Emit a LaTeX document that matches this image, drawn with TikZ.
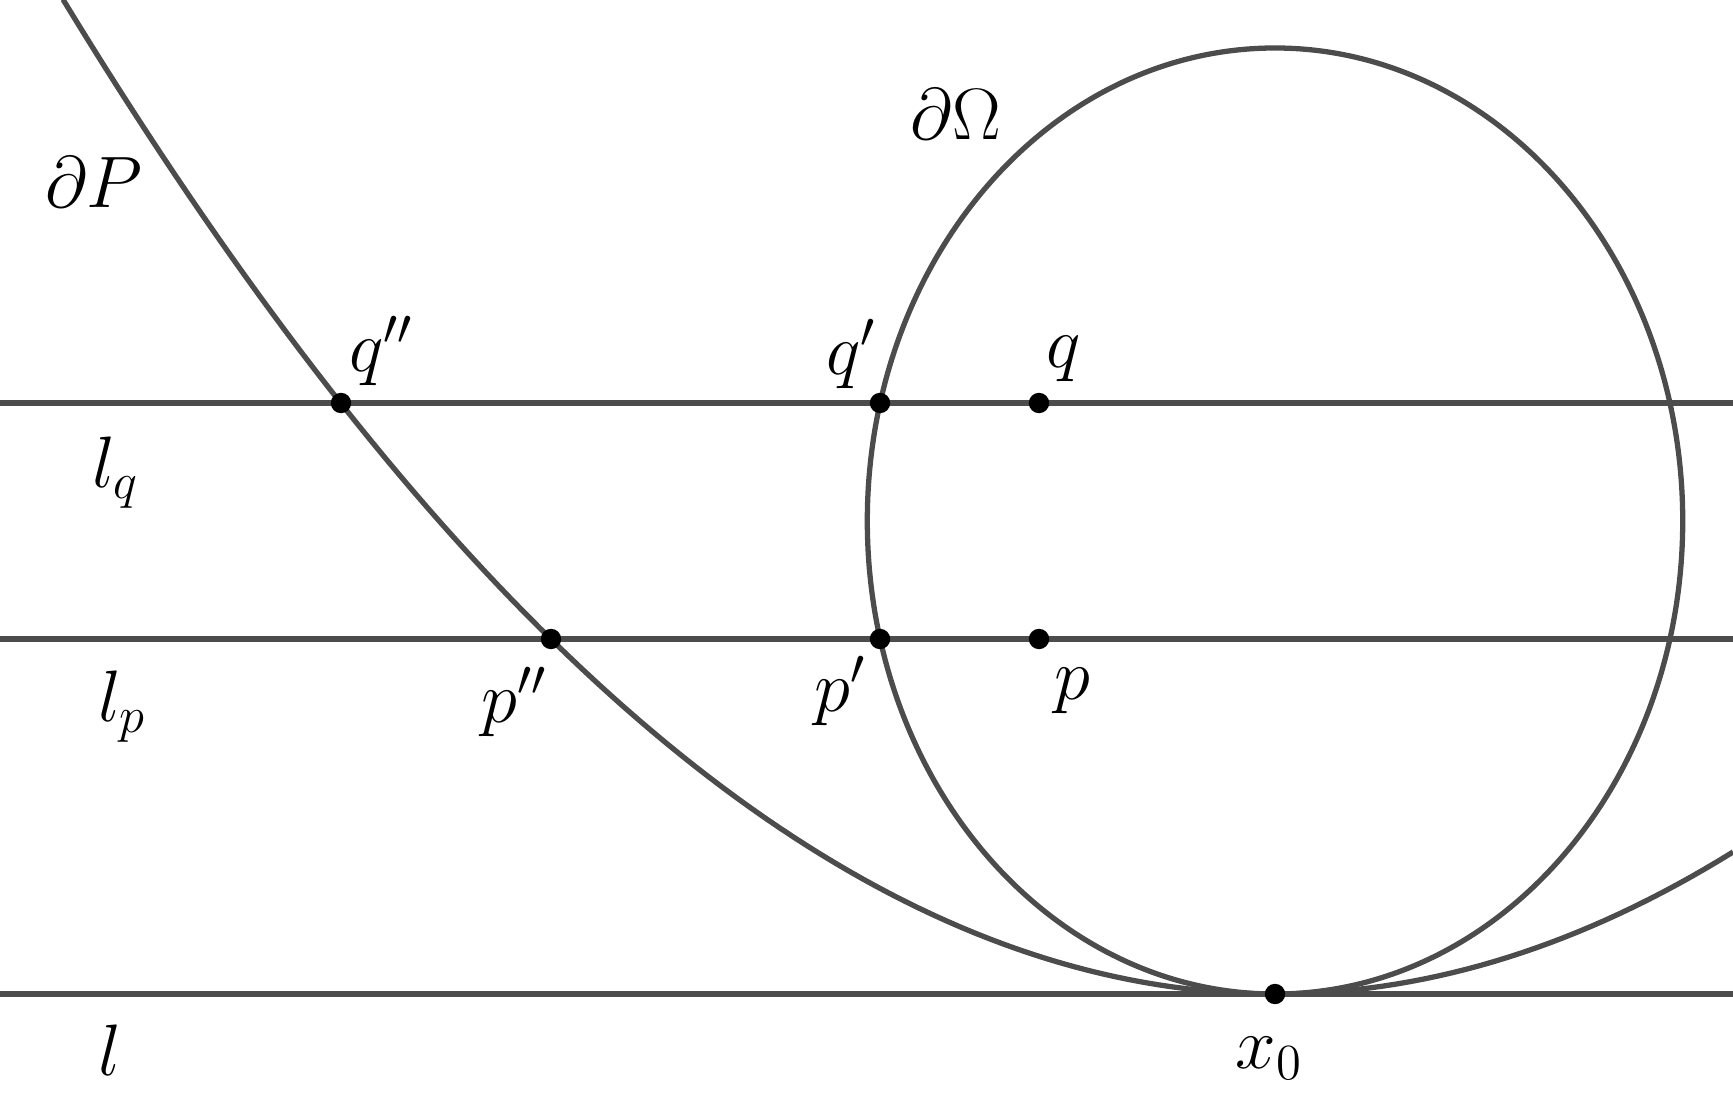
\documentclass[tikz,border=0pt]{standalone}
\usetikzlibrary{positioning}
\begin{document}
\begin{tikzpicture}[every node/.style={font=\fontsize{21}{25}\selectfont}]
  \tikzset{curve/.style={draw=black!70, line width=1.5pt},
           pt/.style={circle, fill=black, inner sep=0pt, minimum size=5.8pt}}

  \useasboundingbox (0,0) rectangle (17.33,11.11);
  \clip (0,0) rectangle (17.33,11.11);

  \def\yl{1.17};
  \def\yp{4.72};
  \def\yq{7.08};

	%draw lines
    \foreach \y/\name in {\yl/l, \yp/lp, \yq/lq}{
        \coordinate (\name W) at (0,\y);
        \coordinate (\name E) at (17.33,\y);
        \draw[curve] (\name W) -- (\name E);
    }

	%boundaries
    \draw[curve] (12.75,5.90) ellipse [x radius=4.077, y radius=4.73];
    \draw[curve] plot[domain=0.63:17.33, samples=120] (\x, {\yl + 0.0677*(\x-12.75)^2});

	%points
    \foreach \x/\y/\name in {3.41/\yq/qpp, 8.80/\yq/qp, 10.39/\yq/q, 5.51/\yp/ppp, 8.80/\yp/pp, 10.39/\yp/p, 12.75/\yl/x0}{
        \node[pt] (\name) at (\x,\y) {};
    }

	%labels
    \foreach \x/\y/\txt/\name in {0.94/9.29/\partial P/dP, 9.56/9.97/\partial\Omega/dO, 3.81/7.60/q''/Lqpp, 8.51/7.57/q'/Lqp, 10.64/7.52/q/Lq, 1.16/6.38/l_q/Llq, 1.22/4.04/l_p/Llp, 5.14/4.09/p''/Lppp, 8.40/4.20/p'/Lpp, 10.72/4.20/p/Lp, 1.10/0.61/l/Ll, 12.69/0.53/x_0/Lx0}{
        \node (\name) at (\x,\y) {$\txt$};
    }

\end{tikzpicture}
\end{document}
